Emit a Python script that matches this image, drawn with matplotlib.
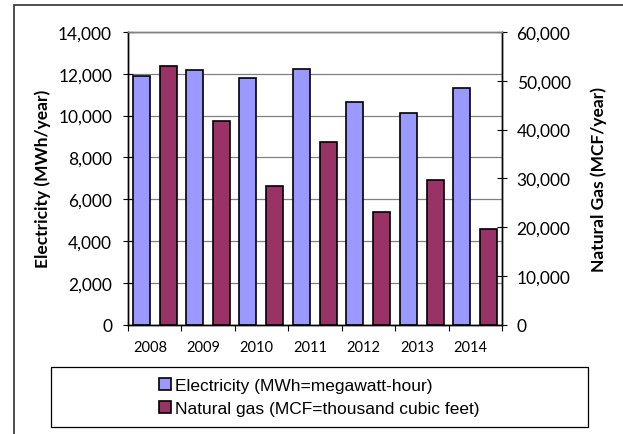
import numpy as np
import matplotlib
matplotlib.use("Agg")
import matplotlib.pyplot as plt
from matplotlib.patches import Rectangle

# データ
years = ["2008", "2009", "2010", "2011", "2012", "2013", "2014"]
electricity = [11900, 12200, 11800, 12250, 10650, 10100, 11300]  # MWh/year
natural_gas = [53100, 41800, 28400, 37400, 23100, 29700, 19500]  # MCF/year

elec_label = "Electricity (MWh=megawatt-hour)"
gas_label = "Natural gas (MCF=thousand cubic feet)"

# 色の設定
elec_color = "#9999FF"
gas_color = "#993366"

tick_font = "Lato"
legend_font = "Liberation Sans"

W, H = 623, 435
fig = plt.figure(figsize=(W / 100, H / 100), dpi=100)

# 背景用の軸（外枠と凡例の枠をピクセル座標で描く）
bg = fig.add_axes([0, 0, 1, 1], zorder=-1)
bg.set_xlim(0, W)
bg.set_ylim(H, 0)
bg.axis("off")
bg.plot([13.5, 13.5, W - 0.5], [H - 0.5, 5.5, 5.5], color="#404040",
        linewidth=1.3, solid_capstyle="butt", solid_joinstyle="miter",
        clip_on=False)
bg.add_patch(Rectangle((51, 368), 537, 60, fill=False,
                       edgecolor="black", linewidth=0.9))

ax = fig.add_axes([128 / W, 1 - 325.5 / H, 374 / W, 292.5 / H])
ax2 = ax.twinx()

x = np.arange(len(years))
bw = 0.32

ax.bar(x - 0.255, electricity, width=bw, color=elec_color,
       edgecolor="black", linewidth=1.2, zorder=3, label=elec_label)
ax2.bar(x + 0.25, natural_gas, width=bw, color=gas_color,
        edgecolor="black", linewidth=1.2, zorder=3, label=gas_label)

# 左軸
ax.set_ylim(0, 14000)
ax.set_yticks(range(0, 14001, 2000))
ax.set_yticklabels([f"{v:,}" for v in range(0, 14001, 2000)],
                   fontfamily=tick_font, fontsize=12.5)
ax.tick_params(axis="y", direction="inout", length=7, width=0.8, pad=8)
ax.set_ylabel("Electricity (MWh/year)", fontfamily=tick_font,
              fontsize=12.5, fontweight="bold", labelpad=5)
ax.grid(axis="y", color="#808080", linewidth=0.9, zorder=0)
ax.set_axisbelow(True)

# 右軸
ax2.set_ylim(0, 60000)
ax2.set_yticks(range(0, 60001, 10000))
ax2.set_yticklabels([f"{v:,}" for v in range(0, 60001, 10000)],
                    fontfamily=tick_font, fontsize=12.5)
ax2.tick_params(axis="y", direction="inout", length=7, width=0.8, pad=7)
ax2.set_ylabel("Natural Gas (MCF/year)", fontfamily=tick_font,
               fontsize=12.5, fontweight="bold", labelpad=14)

# x軸
ax.set_xlim(-0.5, len(years) - 0.5)
ax.set_xticks(np.arange(len(years) + 1) - 0.5, minor=True)
ax.set_xticks(x - 0.09)
ax.set_xticklabels(years, fontfamily=tick_font, fontsize=10.5)
ax.tick_params(axis="x", which="major", length=0, pad=11)
ax.tick_params(axis="x", which="minor", direction="out", length=4, width=0.8)

for a in (ax, ax2):
    for side in ("left", "right", "bottom"):
        a.spines[side].set_color("black")
        a.spines[side].set_linewidth(1.0)
    a.spines["top"].set_color("#808080")
    a.spines["top"].set_linewidth(1.0)

h1, l1 = ax.get_legend_handles_labels()
h2, l2 = ax2.get_legend_handles_labels()
fig.legend(h1 + h2, l1 + l2, loc="center",
           bbox_to_anchor=(319.5 / W, 1 - 398 / H), frameon=False,
           prop={"family": legend_font, "size": 12.5},
           handlelength=0.7, handleheight=0.7, handletextpad=0.25,
           labelspacing=0.45, borderpad=0)

fig.savefig("out.png", dpi=100)
